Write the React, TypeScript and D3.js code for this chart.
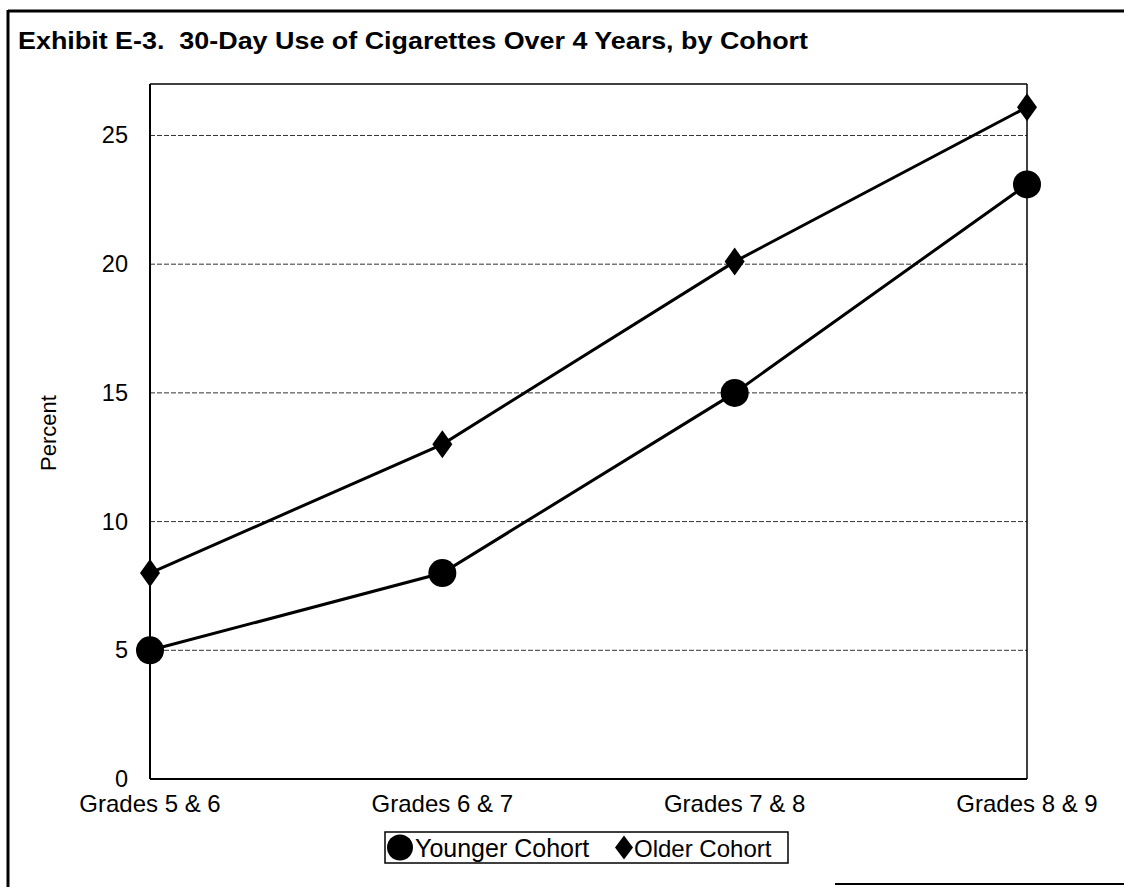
import React from "react";
import * as d3 from "d3";

const categories = ["Grades 5 & 6", "Grades 6 & 7", "Grades 7 & 8", "Grades 8 & 9"];
const younger = [5.0, 8.0, 15.0, 23.1];
const older = [8.0, 13.0, 20.1, 26.1];
const yTicks = [0, 5, 10, 15, 20, 25];
const gridTicks = [5, 10, 15, 20, 25];
const title = "Exhibit E-3.  30-Day Use of Cigarettes Over 4 Years, by Cohort";
const yLabel = "Percent";
const seriesNames = ["Younger Cohort", "Older Cohort"];

const W = 1124;
const H = 887;
const FONT = "'Liberation Sans', Arial, sans-serif";

export default function App() {
  const x = d3.scalePoint<string>().domain(categories).range([150, 1027]).padding(0);
  const y = d3.scaleLinear().domain([0, 27]).range([779, 84]);
  const line = d3
    .line<number>()
    .x((_, i) => x(categories[i]) as number)
    .y((d) => y(d));

  const diamond = (cx: number, cy: number, hw: number, hh: number) =>
    `M${cx},${cy - hh}L${cx + hw},${cy}L${cx},${cy + hh}L${cx - hw},${cy}Z`;

  return (
    <svg
      width={W}
      height={H}
      style={{ position: "absolute", left: 0, top: 0, background: "#fff" }}
      fontFamily={FONT}
    >
      <rect x={0} y={0} width={W} height={H} fill="#fff" />
      {/* outer frame */}
      <line x1={8} x2={W} y1={11} y2={11} stroke="#000" strokeWidth={3} />
      <line x1={8} x2={8} y1={10} y2={H} stroke="#000" strokeWidth={3} />
      <line x1={835} x2={W} y1={884} y2={884} stroke="#000" strokeWidth={2} />

      <text
        x={18}
        y={49}
        fontSize={24}
        fontWeight="bold"
        fill="#000"
        style={{ whiteSpace: "pre" }}
        textLength={790}
        lengthAdjust="spacingAndGlyphs"
      >
        {title}
      </text>

      {/* gridlines */}
      {gridTicks.map((t) => (
        <line
          key={t}
          x1={x(categories[0])}
          x2={x(categories[3])}
          y1={y(t)}
          y2={y(t)}
          stroke="#333"
          strokeWidth={1}
          strokeDasharray="5,2"
        />
      ))}

      {/* plot border */}
      <line x1={150} x2={1027} y1={y(27)} y2={y(27)} stroke="#000" strokeWidth={1.5} />
      <line x1={1027} x2={1027} y1={y(27)} y2={y(0)} stroke="#000" strokeWidth={1.5} />
      {/* axes */}
      <line x1={150} x2={150} y1={y(27)} y2={y(0)} stroke="#000" strokeWidth={2} />
      <line x1={150} x2={1027} y1={y(0)} y2={y(0)} stroke="#000" strokeWidth={2} />

      {/* y ticks */}
      {yTicks.map((t) => (
        <text
          key={t}
          x={128}
          y={y(t) + 8}
          fontSize={23.5}
          textAnchor="end"
          fill="#000"
        >
          {t}
        </text>
      ))}
      <text
        transform={`translate(48,433) rotate(-90)`}
        fontSize={22}
        textAnchor="middle"
        dominantBaseline="central"
        fill="#000"
      >
        {yLabel}
      </text>

      {/* x labels */}
      {categories.map((c) => (
        <text key={c} x={x(c)} y={812} fontSize={24} textAnchor="middle" fill="#000">
          {c}
        </text>
      ))}

      {/* lines */}
      <path d={line(older) || ""} fill="none" stroke="#000" strokeWidth={3} />
      <path d={line(younger) || ""} fill="none" stroke="#000" strokeWidth={3} />

      {older.map((v, i) => (
        <path key={"o" + i} d={diamond(x(categories[i]) as number, y(v), 10, 14)} fill="#000" />
      ))}
      {younger.map((v, i) => (
        <circle key={"y" + i} cx={x(categories[i])} cy={y(v)} r={14} fill="#000" />
      ))}

      {/* legend */}
      <rect x={385} y={832} width={403} height={31} fill="#fff" stroke="#000" strokeWidth={1.5} />
      <circle cx={400} cy={847.5} r={13} fill="#000" />
      <text x={415} y={848} fontSize={25} dominantBaseline="central" fill="#000">
        {seriesNames[0]}
      </text>
      <path d={diamond(624, 847.5, 9, 12)} fill="#000" />
      <text x={634} y={848} fontSize={24} dominantBaseline="central" fill="#000">
        {seriesNames[1]}
      </text>
    </svg>
  );
}
